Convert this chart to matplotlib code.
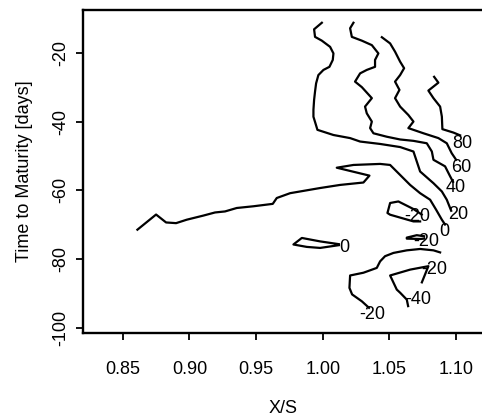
import matplotlib
matplotlib.use("Agg")
import matplotlib.pyplot as plt

plt.rcParams['font.family'] = ['Liberation Sans', 'DejaVu Sans']

# Contour paths of the value surface over moneyness (X/S) and time to maturity
lvl80_x = [1.0835, 1.0867, 1.0792, 1.083, 1.088, 1.0893, 1.0897, 1.098, 1.103]
lvl80_y = [-27.0, -28.7, -31.0, -33.2, -35.65, -38.55, -42.2, -43.2, -44.0]

lvl60_x = [1.0443, 1.0505, 1.0542, 1.058, 1.061, 1.058, 1.0542, 1.0575, 1.0542,
           1.058, 1.0642, 1.068, 1.0642, 1.0755, 1.0867, 1.093, 1.0967, 1.100]
lvl60_y = [-15.5, -17.3, -19.7, -22.6, -24.5, -26.5, -28.4, -30.8, -33.2,
           -35.65, -38.1, -40.0, -41.9, -43.4, -44.8, -46.3, -49.2, -51.1]

lvl40_x = [1.023, 1.0205, 1.0218, 1.0293, 1.0368, 1.0417, 1.0392, 1.0392, 1.033,
           1.028, 1.0242, 1.0293, 1.0368, 1.0317, 1.033, 1.0368, 1.0355, 1.038,
           1.048, 1.058, 1.068, 1.078, 1.0818, 1.083, 1.0917, 1.0955, 1.0977]
lvl40_y = [-11.3, -12.9, -15.4, -16.5, -17.8, -20.2, -22.1, -24.1, -25.0,
           -26.0, -28.4, -30.0, -33.2, -35.65, -37.6, -40.0, -41.9, -43.4,
           -44.4, -45.2, -45.6, -46.3, -48.7, -51.1, -53.0, -55.9, -57.5]

lvl20_x = [0.9993, 0.9935, 0.9942, 0.9993, 1.0055, 1.008, 1.0075, 1.005, 1.0005,
           0.9967, 0.995, 0.9942, 0.9935, 0.993, 0.993, 0.9942, 0.996, 1.008,
           1.0205, 1.028, 1.043, 1.058, 1.068, 1.0705, 1.073, 1.083, 1.0893,
           1.093, 1.0963]
lvl20_y = [-11.3, -13.2, -15.4, -16.5, -18.3, -20.2, -22.1, -24.1, -25.0,
           -26.5, -28.9, -31.3, -33.7, -36.6, -38.6, -40.1, -42.4, -43.9,
           -44.8, -45.8, -46.5, -47.4, -48.7, -51.6, -54.5, -57.9, -60.3,
           -62.7, -65.9]

lvl0_x = [0.861, 0.875, 0.8825, 0.890, 0.898, 0.9105, 0.9192, 0.9267, 0.9355,
          0.948, 0.9625, 0.9655, 0.9755, 0.983, 0.998, 1.013, 1.0305, 1.035,
          1.0105, 1.023, 1.043, 1.0505, 1.058, 1.0655, 1.073, 1.0805, 1.085,
          1.0893, 1.0917]
lvl0_y = [-71.4, -67.0, -69.3, -69.5, -68.5, -67.3, -66.4, -66.1, -65.1,
          -64.6, -63.9, -62.2, -60.8, -60.3, -59.3, -58.4, -57.7, -55.7,
          -53.4, -52.6, -52.3, -52.6, -55.5, -58.4, -60.8, -62.7, -65.6,
          -68.5, -69.9]

loop0_x = [1.012, 0.998, 0.9843, 0.978, 0.988, 0.998, 1.012]
loop0_y = [-75.6, -74.8, -73.8, -75.7, -76.4, -76.7, -75.9]

loop20a_x = [1.0742, 1.068, 1.0567, 1.0505, 1.0485, 1.0505, 1.068, 1.073]
loop20a_y = [-67.0, -65.4, -63.2, -63.65, -66.55, -67.05, -69.0, -69.0]

loop20b_x = [1.076, 1.0705, 1.063, 1.063, 1.073, 1.076]
loop20b_y = [-73.3, -73.0, -73.7, -74.0, -74.1, -74.0]

low20_x = [1.088, 1.083, 1.073, 1.063, 1.053, 1.0467, 1.043, 1.0405, 1.0305,
           1.0205, 1.020, 1.022, 1.0293, 1.0347]
low20_y = [-78.0, -77.4, -77.0, -77.4, -78.15, -79.1, -80.6, -82.5, -83.9,
           -84.7, -88.3, -90.2, -92.2, -94.1]

low40_x = [1.0743, 1.0767, 1.0792, 1.0655, 1.0505, 1.0555, 1.058, 1.063, 1.064]
low40_y = [-86.7, -84.4, -82.0, -83.0, -84.7, -88.8, -89.7, -91.7, -93.6]

paths = [(lvl80_x, lvl80_y), (lvl60_x, lvl60_y), (lvl40_x, lvl40_y),
         (lvl20_x, lvl20_y), (lvl0_x, lvl0_y), (loop0_x, loop0_y),
         (loop20a_x, loop20a_y), (loop20b_x, loop20b_y),
         (low20_x, low20_y), (low40_x, low40_y)]

# Contour level labels: text, x, y
label_text = ["80", "60", "40", "20", "0", "0", "-20", "-20", "-20", "-20", "-40"]
label_x = [1.105, 1.1035, 1.100, 1.1015, 1.0915, 1.0165, 1.0705, 1.0775, 1.0835, 1.0368, 1.0717]
label_y = [-46.3, -53.4, -59.1, -67.0, -71.9, -76.5, -67.5, -74.9, -83.0, -96.0, -91.8]

x_ticks = [0.85, 0.90, 0.95, 1.00, 1.05, 1.10]
x_ticklabels = ["0.85", "0.90", "0.95", "1.00", "1.05", "1.10"]
y_ticks = [-20, -40, -60, -80, -100]
y_ticklabels = ["-20", "-40", "-60", "-80", "-100"]

fig = plt.figure(figsize=(4.82, 4.19), dpi=100)
ax = fig.add_axes([0.1722, 0.2053, 0.8300, 0.7708])

for xs, ys in paths:
    ax.plot(xs, ys, color='black', lw=1.6, solid_joinstyle='round')

for t, lx, ly in zip(label_text, label_x, label_y):
    ax.text(lx, ly, t, fontsize=13, ha='center', va='center', color='black')

ax.set_xlim(0.8202, 1.1202)
ax.set_ylim(-101.4, -7.6)

ax.set_xticks(x_ticks)
ax.set_xticklabels(x_ticklabels)
ax.set_yticks(y_ticks)
ax.set_yticklabels(y_ticklabels, rotation=90, va='center')

ax.tick_params(axis='both', direction='out', length=5, width=1.3, labelsize=13,
               colors='black')
ax.tick_params(axis='x', pad=15)
ax.tick_params(axis='y', pad=5)

for sp in ax.spines.values():
    sp.set_linewidth(1.7)
    sp.set_color('black')

ax.set_xlabel("X/S", fontsize=13, labelpad=16)
ax.set_ylabel("Time to Maturity [days]", fontsize=13, labelpad=14)

fig.savefig("out.png", dpi=100)
